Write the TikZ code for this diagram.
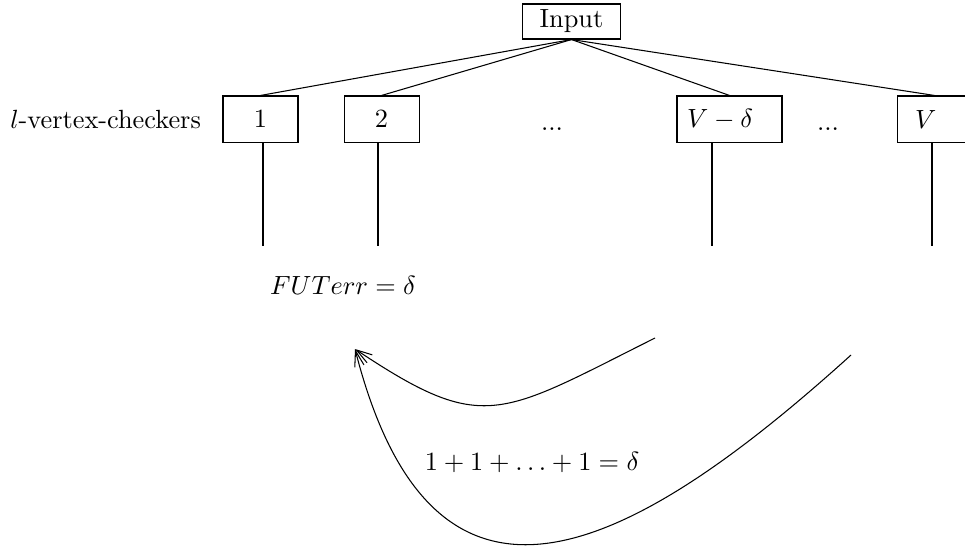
\documentclass[tikz,border=0pt]{standalone}
\usepackage{amsmath}
\usepackage{amssymb}
\usetikzlibrary{
  arrows.meta,
  positioning,
  calc
}
\tikzset{
  unitbox/.style={
    draw, inner ysep=0pt, minimum height=17.5pt, font=\normalsize
  },
  checker/.style={unitbox, minimum width=28.5pt, inner xsep=0pt},
  inputbox/.style={draw, inner sep=0pt, minimum height=13.3pt, minimum width=36.9pt},
  feed/.style={thin, black},
  wire/.style={thin, black},
  backflow/.style={-{Straight Barb[length=6pt, width=3.6pt]}, thin, black},
  tag/.style={inner sep=0pt}
}

\begin{document}
\begin{tikzpicture}[x=0.38pt, y=-0.38pt]
  \useasboundingbox (0,0) rectangle (965,547);
  \node[inputbox] (input) at (571.5,21.5) {Input};
  \node[checker] (b1) at (260.5,119) {1};
  \node[checker, right=17.1pt of b1] (b2) {2};
  \node[unitbox, text width=32.3pt, inner xsep=3.8pt, align=left] (bvd) at (729.5,119) {$V-\delta$};
  \node[unitbox, text width=14.8pt, inner xsep=6.8pt, align=left] (bV) at (934.5,119) {$V$};
  \node[tag, left=8pt of b1] (lbl) {$l$-vertex-checkers};
  \node[tag, anchor=base] (dA) at (552,130) {...};
  \node[tag, anchor=base] (dB) at (828,130) {...};
  \foreach \b in {b1,b2,bvd,bV}
    \draw[feed] (input.south) -- (\b.north);
  \coordinate (t1) at (263,246);
  \coordinate (t2) at (378,246);
  \coordinate (t3) at (712,246);
  \coordinate (t4) at (932,246);
  \foreach \b/\t in {b1/t1,b2/t2,bvd/t3,bV/t4}
    \draw[wire] (\b.south -| \t) -- (\t);
  \node[tag, anchor=base] (fut) at (343,294) {$FUTerr=\delta$};
  \coordinate (tip) at (355,349);
  \coordinate (s1) at (655,338);
  \coordinate (s2) at (851,355);
  \draw[backflow] (s1) .. controls (499,416) and (484,435) .. (tip);
  \draw[backflow] (s2) .. controls (619,565) and (432,649) .. (tip);
  \node[tag, anchor=base] (sum) at (532,470) {$1+1+\ldots+1=\delta$};
\end{tikzpicture}
\end{document}
